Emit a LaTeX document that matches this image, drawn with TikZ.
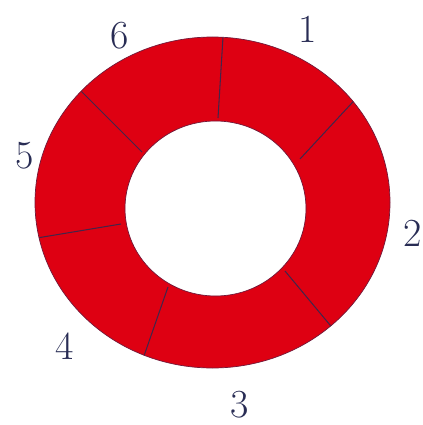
\documentclass[tikz,border=0pt]{standalone}
\usetikzlibrary{calc}
\definecolor{ringred}{RGB}{222,0,18}
\definecolor{inkblue}{RGB}{40,44,84}
\tikzset{
  ringedge/.style={draw=inkblue!60!ringred, line width=0.6pt},
  divider/.style={inkblue!85!ringred, line width=0.9pt},
  sectorlabel/.style={text=inkblue, font=\fontsize{34}{36}\selectfont, inner sep=0pt},
}
\begin{document}
\begin{tikzpicture}[x=0.03cm, y=-0.03cm]
    \useasboundingbox (0,0) rectangle (422,425);

    % Ring
    \fill[ringred, even odd rule]
        (212.5,202.5) ellipse [x radius=177.5, y radius=165.5]
        (215.5,208.5) ellipse [x radius=90.5, y radius=87.5];

    % Dividers between the six sectors
    \begin{scope}
        \clip (212.5,202.5) ellipse [x radius=177.5, y radius=165.5];
        \foreach \xo/\yo/\xi/\yi in {223/37/218/118, 351/104/300/159, 330/325/285/271,
                                     145/353/168/287, 43/237/121/224, 85/95/142/152}
            \draw[divider] (\xi,\yi) -- ($(\xi,\yi)!1.08!(\xo,\yo)$);
    \end{scope}

    % Edges
    \draw[ringedge] (212.5,202.5) ellipse [x radius=177.5, y radius=165.5];
    \draw[ringedge] (215.5,208.5) ellipse [x radius=90.5, y radius=87.5];

    % Sector numbers
    \node[sectorlabel] (n1) at (308,29) {1};
    \node[sectorlabel] (n2) at (413,233) {2};
    \node[sectorlabel] (n3) at (240,405) {3};
    \node[sectorlabel] (n4) at (65,346) {4};
    \node[sectorlabel] (n5) at (25,156) {5};
    \node[sectorlabel] (n6) at (120,36) {6};
\end{tikzpicture}
\end{document}
